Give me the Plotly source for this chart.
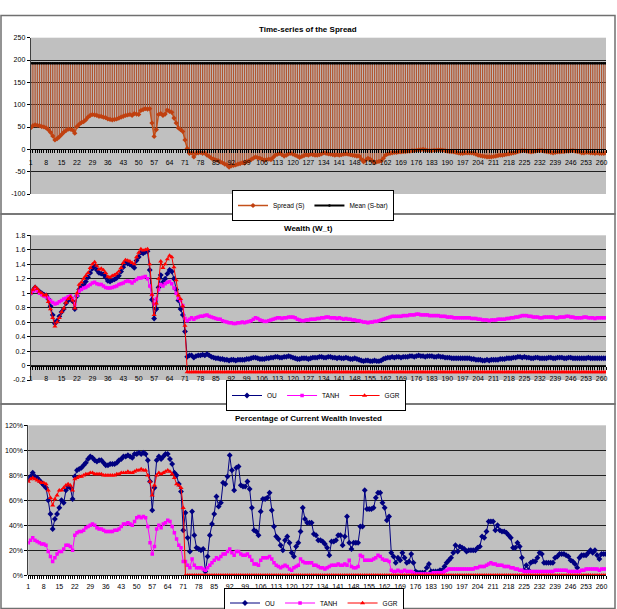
import plotly.graph_objects as go

# ---------------- data ----------------
categories = list(range(1, 263))
x_tick_labels = [1, 8, 15, 22, 29, 36, 43, 50, 57, 64, 71, 78, 85, 92, 99, 106, 113, 120, 127,
                 134, 141, 148, 155, 162, 169, 176, 183, 190, 197, 204, 211, 218, 225, 232, 239,
                 246, 253, 260]

spread_s = [
    48, 53, 55, 54, 53, 51, 50, 48, 44, 38,
    30, 21, 24, 28, 33, 38, 42, 45, 45, 43,
    36, 51, 56, 60, 62, 66, 72, 76, 78, 77,
    76, 74, 74, 72, 71, 68, 67, 66, 67, 68,
    70, 72, 74, 76, 77, 78, 76, 80, 79, 78,
    87, 89, 91, 90, 91, 59, 29, 44, 78, 80,
    76, 79, 88, 85, 83, 70, 59, 48, 44, 40,
    21, 2, -9, -8, -17, -9, -8, -7, -9, -8,
    -13, -16, -20, -22, -24, -25, -28, -30, -33, -35,
    -40, -37, -36, -35, -33, -32, -30, -31, -27, -26,
    -23, -20, -17, -19, -20, -22, -24, -23, -22, -23,
    -18, -13, -11, -9, -12, -15, -13, -10, -9, -11,
    -13, -15, -18, -16, -14, -12, -13, -11, -12, -13,
    -13, -12, -10, -8, -9, -10, -11, -12, -13, -12,
    -13, -12, -11, -10, -11, -12, -13, -14, -15, -15,
    -22, -28, -24, -20, -22, -26, -30, -28, -27, -26,
    -20, -13, -10, -9, -8, -7, -7, -6, -6, -5,
    -5, -4, -4, -3, -3, -2, -1, -1, 0, -1,
    -2, -3, -3, -2, -2, -1, -1, -2, -3, -4,
    -5, -5, -6, -7, -8, -9, -9, -8, -8, -8,
    -8, -9, -11, -13, -14, -15, -16, -17, -17, -17,
    -16, -15, -14, -13, -13, -12, -11, -10, -9, -8,
    -7, -5, -4, -3, -3, -4, -5, -6, -5, -4,
    -3, -3, -3, -4, -5, -6, -7, -8, -7, -6,
    -6, -5, -5, -4, -4, -3, -3, -4, -5, -6,
    -8, -8, -7, -7, -8, -8, -9, -8, -9, -9,
    -9, -8]

mean_s_bar = [
    193, 193, 193, 193, 193, 193, 193, 193, 193, 193,
    193, 193, 193, 193, 193, 193, 193, 193, 193, 193,
    193, 193, 193, 193, 193, 193, 193, 193, 193, 193,
    193, 193, 193, 193, 193, 193, 193, 193, 193, 193,
    193, 193, 193, 193, 193, 193, 193, 193, 193, 193,
    193, 193, 193, 193, 193, 193, 193, 193, 193, 193,
    193, 193, 193, 193, 193, 193, 193, 193, 193, 193,
    193, 193, 193, 193, 193, 193, 193, 193, 193, 193,
    193, 193, 193, 193, 193, 193, 193, 193, 193, 193,
    193, 193, 193, 193, 193, 193, 193, 193, 193, 193,
    193, 193, 193, 193, 193, 193, 193, 193, 193, 193,
    193, 193, 193, 193, 193, 193, 193, 193, 193, 193,
    193, 193, 193, 193, 193, 193, 193, 193, 193, 193,
    193, 193, 193, 193, 193, 193, 193, 193, 193, 193,
    193, 193, 193, 193, 193, 193, 193, 193, 193, 193,
    193, 193, 193, 193, 193, 193, 193, 193, 193, 193,
    193, 193, 193, 193, 193, 193, 193, 193, 193, 193,
    193, 193, 193, 193, 193, 193, 193, 193, 193, 193,
    193, 193, 193, 193, 193, 193, 193, 193, 193, 193,
    193, 193, 193, 193, 193, 193, 193, 193, 193, 193,
    193, 193, 193, 193, 193, 193, 193, 193, 193, 193,
    193, 193, 193, 193, 193, 193, 193, 193, 193, 193,
    193, 193, 193, 193, 193, 193, 193, 193, 193, 193,
    193, 193, 193, 193, 193, 193, 193, 193, 193, 193,
    193, 193, 193, 193, 193, 193, 193, 193, 193, 193,
    193, 193, 193, 193, 193, 193, 193, 193, 193, 193,
    193, 193]

ou_wealth = [
    1.00, 1.04, 1.08, 1.05, 1.02, 1.00, 0.98, 0.97, 0.92, 0.82,
    0.70, 0.58, 0.62, 0.68, 0.74, 0.78, 0.86, 0.90, 0.93, 0.89,
    0.78, 0.96, 1.05, 1.09, 1.12, 1.16, 1.22, 1.28, 1.34, 1.37,
    1.32, 1.28, 1.27, 1.26, 1.22, 1.17, 1.16, 1.18, 1.19, 1.21,
    1.24, 1.30, 1.36, 1.42, 1.41, 1.40, 1.38, 1.35, 1.45, 1.50,
    1.56, 1.55, 1.57, 1.58, 1.32, 0.91, 0.65, 0.78, 1.08, 1.25,
    1.15, 1.20, 1.27, 1.32, 1.30, 1.20, 1.05, 0.90, 0.78, 0.70,
    0.47, 0.12, 0.14, 0.14, 0.11, 0.13, 0.14, 0.14, 0.15, 0.14,
    0.16, 0.14, 0.12, 0.11, 0.10, 0.10, 0.09, 0.09, 0.08, 0.08,
    0.07, 0.08, 0.08, 0.07, 0.08, 0.08, 0.08, 0.08, 0.09, 0.09,
    0.10, 0.11, 0.11, 0.10, 0.09, 0.09, 0.09, 0.10, 0.10, 0.11,
    0.11, 0.12, 0.12, 0.11, 0.11, 0.12, 0.12, 0.13, 0.12, 0.11,
    0.10, 0.09, 0.09, 0.10, 0.10, 0.10, 0.09, 0.10, 0.11, 0.11,
    0.11, 0.12, 0.12, 0.11, 0.11, 0.12, 0.12, 0.11, 0.11, 0.10,
    0.11, 0.10, 0.10, 0.11, 0.10, 0.09, 0.09, 0.10, 0.09, 0.08,
    0.07, 0.06, 0.07, 0.07, 0.06, 0.06, 0.07, 0.06, 0.06, 0.07,
    0.09, 0.10, 0.11, 0.11, 0.12, 0.11, 0.12, 0.12, 0.11, 0.12,
    0.12, 0.12, 0.13, 0.13, 0.12, 0.13, 0.14, 0.13, 0.13, 0.12,
    0.13, 0.13, 0.13, 0.12, 0.12, 0.13, 0.12, 0.12, 0.11, 0.11,
    0.11, 0.10, 0.10, 0.10, 0.10, 0.10, 0.10, 0.10, 0.10, 0.10,
    0.09, 0.09, 0.08, 0.08, 0.08, 0.07, 0.07, 0.08, 0.07, 0.08,
    0.08, 0.08, 0.08, 0.09, 0.09, 0.09, 0.10, 0.10, 0.10, 0.11,
    0.11, 0.12, 0.12, 0.11, 0.12, 0.11, 0.11, 0.10, 0.10, 0.11,
    0.11, 0.10, 0.10, 0.10, 0.10, 0.11, 0.11, 0.10, 0.10, 0.11,
    0.11, 0.11, 0.10, 0.10, 0.11, 0.11, 0.10, 0.10, 0.10, 0.10,
    0.10, 0.10, 0.10, 0.11, 0.10, 0.10, 0.10, 0.10, 0.10, 0.10,
    0.10, 0.10]

tanh_wealth = [
    1.00, 1.03, 1.05, 1.03, 1.00, 0.98, 0.96, 0.95, 0.93, 0.90,
    0.87, 0.85, 0.86, 0.88, 0.90, 0.92, 0.93, 0.95, 0.96, 0.93,
    0.84, 0.97, 1.03, 1.05, 1.07, 1.08, 1.10, 1.12, 1.14, 1.15,
    1.13, 1.12, 1.12, 1.10, 1.08, 1.07, 1.07, 1.08, 1.09, 1.10,
    1.12, 1.13, 1.14, 1.16, 1.17, 1.16, 1.14, 1.17, 1.19, 1.21,
    1.21, 1.22, 1.23, 1.20, 1.10, 0.98, 0.85, 0.92, 1.05, 1.12,
    1.10, 1.13, 1.15, 1.16, 1.13, 1.07, 1.00, 0.93, 0.90, 0.83,
    0.65, 0.62, 0.64, 0.66, 0.64, 0.66, 0.67, 0.68, 0.68, 0.69,
    0.70, 0.68, 0.67, 0.66, 0.65, 0.64, 0.64, 0.62, 0.61, 0.60,
    0.59, 0.59, 0.58, 0.58, 0.59, 0.59, 0.60, 0.59, 0.60, 0.61,
    0.62, 0.64, 0.66, 0.65, 0.63, 0.62, 0.61, 0.61, 0.62, 0.63,
    0.64, 0.65, 0.66, 0.66, 0.65, 0.66, 0.66, 0.67, 0.67, 0.67,
    0.66, 0.64, 0.63, 0.62, 0.62, 0.63, 0.63, 0.64, 0.64, 0.64,
    0.65, 0.65, 0.66, 0.66, 0.67, 0.67, 0.66, 0.66, 0.66, 0.65,
    0.66, 0.65, 0.64, 0.65, 0.64, 0.64, 0.63, 0.63, 0.62, 0.62,
    0.61, 0.60, 0.60, 0.59, 0.60, 0.60, 0.61, 0.61, 0.62, 0.63,
    0.64, 0.65, 0.66, 0.67, 0.68, 0.68, 0.68, 0.68, 0.68, 0.69,
    0.69, 0.69, 0.70, 0.70, 0.70, 0.71, 0.71, 0.70, 0.70, 0.70,
    0.70, 0.69, 0.69, 0.69, 0.69, 0.69, 0.68, 0.68, 0.68, 0.67,
    0.67, 0.67, 0.66, 0.66, 0.66, 0.66, 0.66, 0.66, 0.66, 0.66,
    0.65, 0.65, 0.65, 0.64, 0.64, 0.63, 0.63, 0.63, 0.62, 0.63,
    0.63, 0.63, 0.64, 0.64, 0.64, 0.64, 0.65, 0.65, 0.66, 0.66,
    0.67, 0.67, 0.68, 0.69, 0.69, 0.69, 0.68, 0.68, 0.67, 0.67,
    0.67, 0.66, 0.66, 0.67, 0.67, 0.67, 0.67, 0.67, 0.66, 0.66,
    0.67, 0.67, 0.67, 0.68, 0.68, 0.67, 0.67, 0.66, 0.66, 0.66,
    0.66, 0.67, 0.67, 0.66, 0.66, 0.66, 0.65, 0.66, 0.66, 0.66,
    0.66, 0.66]

ggr_wealth = [
    1.00, 1.05, 1.09, 1.06, 1.02, 1.00, 0.97, 0.98, 0.88, 0.78,
    0.66, 0.54, 0.60, 0.66, 0.74, 0.79, 0.87, 0.92, 0.95, 0.90,
    0.79, 1.00, 1.12, 1.15, 1.20, 1.24, 1.28, 1.35, 1.40, 1.43,
    1.38, 1.33, 1.34, 1.32, 1.28, 1.23, 1.22, 1.24, 1.25, 1.27,
    1.30, 1.35, 1.42, 1.46, 1.45, 1.44, 1.42, 1.40, 1.50, 1.56,
    1.61, 1.59, 1.60, 1.61, 1.40, 0.98, 0.70, 0.86, 1.20, 1.44,
    1.35, 1.40, 1.47, 1.52, 1.50, 1.36, 1.18, 0.97, 0.92, 0.82,
    0.55, -0.09, -0.09, -0.09, -0.09, -0.09, -0.09, -0.09, -0.09, -0.09,
    -0.09, -0.09, -0.09, -0.09, -0.09, -0.09, -0.09, -0.09, -0.09, -0.09,
    -0.09, -0.09, -0.09, -0.09, -0.09, -0.09, -0.09, -0.09, -0.09, -0.09,
    -0.09, -0.09, -0.09, -0.09, -0.09, -0.09, -0.09, -0.09, -0.09, -0.09,
    -0.09, -0.09, -0.09, -0.09, -0.09, -0.09, -0.09, -0.09, -0.09, -0.09,
    -0.09, -0.09, -0.09, -0.09, -0.09, -0.09, -0.09, -0.09, -0.09, -0.09,
    -0.09, -0.09, -0.09, -0.09, -0.09, -0.09, -0.09, -0.09, -0.09, -0.09,
    -0.09, -0.09, -0.09, -0.09, -0.09, -0.09, -0.09, -0.09, -0.09, -0.09,
    -0.09, -0.09, -0.09, -0.09, -0.09, -0.09, -0.09, -0.09, -0.09, -0.09,
    -0.09, -0.09, -0.09, -0.09, -0.09, -0.09, -0.09, -0.09, -0.09, -0.09,
    -0.09, -0.09, -0.09, -0.09, -0.09, -0.09, -0.09, -0.09, -0.09, -0.09,
    -0.09, -0.09, -0.09, -0.09, -0.09, -0.09, -0.09, -0.09, -0.09, -0.09,
    -0.09, -0.09, -0.09, -0.09, -0.09, -0.09, -0.09, -0.09, -0.09, -0.09,
    -0.09, -0.09, -0.09, -0.09, -0.09, -0.09, -0.09, -0.09, -0.09, -0.09,
    -0.09, -0.09, -0.09, -0.09, -0.09, -0.09, -0.09, -0.09, -0.09, -0.09,
    -0.09, -0.09, -0.09, -0.09, -0.09, -0.09, -0.09, -0.09, -0.09, -0.09,
    -0.09, -0.09, -0.09, -0.09, -0.09, -0.09, -0.09, -0.09, -0.09, -0.09,
    -0.09, -0.09, -0.09, -0.09, -0.09, -0.09, -0.09, -0.09, -0.09, -0.09,
    -0.09, -0.09, -0.09, -0.09, -0.09, -0.09, -0.09, -0.09, -0.09, -0.09,
    -0.09, -0.09]

ou_pct = [
    77, 79, 82, 79, 78, 76, 74, 72, 70, 60,
    49, 37, 45, 49, 54, 60, 58, 68, 71, 70,
    61, 79, 84, 85, 86, 88, 90, 93, 95, 94,
    92, 91, 92, 92, 90, 88, 88, 89, 89, 89,
    90, 92, 93, 95, 95, 96, 95, 94, 97, 97,
    98, 97, 98, 97, 92, 75, 52, 70, 92, 95,
    93, 95, 97, 97, 93, 89, 82, 80, 73, 67,
    36, 50, 30, 19, 51, 32, 22, 21, 20, 21,
    3, 15, 32, 41, 49, 63, 55, 58, 74, 73,
    79, 96, 84, 68, 86, 87, 72, 71, 71, 75,
    69, 54, 36, 35, 32, 51, 61, 61, 62, 66,
    52, 39, 31, 29, 24, 20, 28, 31, 26, 18,
    15, 23, 26, 35, 54, 45, 42, 42, 42, 33,
    32, 28, 28, 27, 25, 22, 16, 27, 27, 28,
    32, 32, 24, 31, 47, 26, 21, 26, 26, 26,
    39, 39, 68, 53, 53, 53, 54, 62, 66, 66,
    58, 54, 44, 47, 18, 15, 10, 14, 12, 18,
    14, 10, 11, 17, 10, 3, 2, 2, 2, 2,
    6, 9, 3, 3, 3, 3, 4, 4, 7, 10,
    12, 14, 18, 24, 19, 23, 22, 21, 19, 20,
    20, 20, 20, 22, 23, 31, 30, 35, 43, 43,
    43, 36, 40, 36, 35, 35, 34, 32, 30, 22,
    22, 26, 23, 14, 4, 8, 4, 10, 11, 11,
    14, 18, 17, 10, 10, 10, 10, 10, 14, 15,
    17, 17, 17, 16, 15, 12, 11, 9, 6, 14,
    16, 16, 16, 18, 20, 18, 20, 16, 13, 17,
    17, 17]

tanh_pct = [
    26, 28, 30, 28, 27, 26, 25, 25, 24, 19,
    15, 11, 14, 17, 19, 19, 21, 24, 24, 23,
    20, 32, 34, 35, 35, 36, 38, 39, 40, 41,
    40, 38, 37, 37, 36, 35, 35, 35, 35, 36,
    36, 37, 39, 41, 41, 42, 41, 40, 43, 46,
    47, 46, 47, 46, 39, 26, 17, 23, 37, 40,
    38, 41, 42, 44, 43, 39, 34, 29, 24, 22,
    11, 11, 8, 6, 13, 8, 6, 6, 6, 5,
    4, 6, 8, 10, 12, 14, 13, 15, 17, 17,
    19, 21, 18, 16, 19, 19, 17, 16, 16, 17,
    15, 12, 9, 9, 8, 12, 14, 14, 14, 15,
    13, 10, 8, 7, 6, 7, 8, 7, 5, 4,
    6, 7, 8, 13, 11, 10, 10, 10, 10, 8,
    8, 7, 6, 6, 5, 6, 7, 8, 8, 8,
    9, 8, 8, 9, 8, 12, 7, 6, 6, 7,
    16, 15, 12, 12, 12, 12, 13, 14, 16, 15,
    13, 12, 12, 11, 4, 3, 3, 4, 3, 3,
    4, 3, 3, 3, 2, 1, 1, 1, 1, 1,
    1, 1, 1, 2, 2, 2, 2, 2, 3, 4,
    5, 5, 5, 5, 5, 5, 5, 5, 5, 5,
    5, 5, 6, 6, 7, 7, 7, 8, 9, 10,
    9, 9, 8, 8, 8, 7, 7, 7, 6, 6,
    5, 5, 4, 4, 3, 3, 3, 3, 3, 3,
    3, 3, 3, 3, 3, 3, 3, 3, 4, 4,
    4, 4, 4, 4, 3, 3, 3, 3, 3, 3,
    4, 4, 5, 5, 5, 5, 5, 5, 4, 5,
    5, 5]

ggr_pct = [
    75, 77, 78, 77, 76, 75, 74, 74, 73, 68,
    62, 56, 61, 64, 68, 68, 70, 72, 73, 72,
    68, 77, 78, 79, 79, 80, 81, 81, 82, 82,
    81, 81, 81, 81, 80, 80, 80, 80, 80, 80,
    81, 81, 82, 82, 82, 83, 82, 82, 83, 84,
    84, 85, 84, 84, 80, 75, 64, 72, 80, 82,
    81, 82, 83, 84, 83, 81, 78, 73, 72, 70,
    54, 0, 0, 0, 0, 0, 0, 0, 0, 0,
    0, 0, 0, 0, 0, 0, 0, 0, 0, 0,
    0, 0, 0, 0, 0, 0, 0, 0, 0, 0,
    0, 0, 0, 0, 0, 0, 0, 0, 0, 0,
    0, 0, 0, 0, 0, 0, 0, 0, 0, 0,
    0, 0, 0, 0, 0, 0, 0, 0, 0, 0,
    0, 0, 0, 0, 0, 0, 0, 0, 0, 0,
    0, 0, 0, 0, 0, 0, 0, 0, 0, 0,
    0, 0, 0, 0, 0, 0, 0, 0, 0, 0,
    0, 0, 0, 0, 0, 0, 0, 0, 0, 0,
    0, 0, 0, 0, 0, 0, 0, 0, 0, 0,
    0, 0, 0, 0, 0, 0, 0, 0, 0, 0,
    0, 0, 0, 0, 0, 0, 0, 0, 0, 0,
    0, 0, 0, 0, 0, 0, 0, 0, 0, 0,
    0, 0, 0, 0, 0, 0, 0, 0, 0, 0,
    0, 0, 0, 0, 0, 0, 0, 0, 0, 0,
    0, 0, 0, 0, 0, 0, 0, 0, 0, 0,
    0, 0, 0, 0, 0, 0, 0, 0, 0, 0,
    0, 0, 0, 0, 0, 0, 0, 0, 0, 0,
    0, 0]

spread_ticks = [-100, -50, 0, 50, 100, 150, 200, 250]
wealth_ticks = [-0.2, 0, 0.2, 0.4, 0.6, 0.8, 1.0, 1.2, 1.4, 1.6, 1.8]
wealth_tick_text = ["-0.2", "0", "0.2", "0.4", "0.6", "0.8", "1", "1.2", "1.4", "1.6", "1.8"]
pct_ticks = [0, 20, 40, 60, 80, 100, 120]
pct_tick_text = ["0%", "20%", "40%", "60%", "80%", "100%", "120%"]

_lens = {k: len(v) for k, v in dict(spread_s=spread_s, mean_s_bar=mean_s_bar, ou_wealth=ou_wealth,
                                      tanh_wealth=tanh_wealth, ggr_wealth=ggr_wealth, ou_pct=ou_pct,
                                      tanh_pct=tanh_pct, ggr_pct=ggr_pct).items()}
assert all(n == len(categories) for n in _lens.values()), _lens

# ---------------- layout helpers ----------------
W, H = 617, 609
FONT = "Arial, Liberation Sans, sans-serif"


def fx(p):
    return p / W


def fy(p):
    return 1 - p / H


fig = go.Figure()

# high-low lines between spread and mean
hl_x, hl_y = [], []
for c, s, m in zip(categories, spread_s, mean_s_bar):
    hl_x += [c, c, None]
    hl_y += [s, m, None]

fig.add_trace(go.Scatter(x=hl_x, y=hl_y, mode="lines", line=dict(color="#B25530", width=1.25),
                         showlegend=False, hoverinfo="skip", xaxis="x", yaxis="y"))
fig.add_trace(go.Scatter(x=categories, y=spread_s, name="Spread (S)", mode="lines+markers",
                         line=dict(color="#C4501A", width=1.5),
                         marker=dict(symbol="diamond", size=4, color="#C04010"),
                         xaxis="x", yaxis="y", legend="legend"))
fig.add_trace(go.Scatter(x=categories, y=mean_s_bar, name="Mean (S-bar)", mode="lines+markers",
                         line=dict(color="#000000", width=2),
                         marker=dict(symbol="circle", size=2.5, color="#000000"),
                         xaxis="x", yaxis="y", legend="legend"))

# wealth
fig.add_trace(go.Scatter(x=categories, y=ou_wealth, name="OU", mode="lines+markers",
                         line=dict(color="#000080", width=1),
                         marker=dict(symbol="diamond", size=4.5, color="#000080"),
                         xaxis="x2", yaxis="y2", legend="legend2"))
fig.add_trace(go.Scatter(x=categories, y=tanh_wealth, name="TANH", mode="lines+markers",
                         line=dict(color="#FF00FF", width=1),
                         marker=dict(symbol="square", size=3.5, color="#FF00FF"),
                         xaxis="x2", yaxis="y2", legend="legend2"))
fig.add_trace(go.Scatter(x=categories, y=ggr_wealth, name="GGR", mode="lines+markers",
                         line=dict(color="#FF0000", width=1),
                         marker=dict(symbol="triangle-up", size=4.5, color="#FF0000"),
                         xaxis="x2", yaxis="y2", legend="legend2"))

# percentage invested
fig.add_trace(go.Scatter(x=categories, y=ou_pct, name="OU", mode="lines+markers",
                         line=dict(color="#000080", width=1),
                         marker=dict(symbol="diamond", size=4.5, color="#000080"),
                         xaxis="x3", yaxis="y3", legend="legend3"))
fig.add_trace(go.Scatter(x=categories, y=tanh_pct, name="TANH", mode="lines+markers",
                         line=dict(color="#FF00FF", width=1),
                         marker=dict(symbol="square", size=3.5, color="#FF00FF"),
                         xaxis="x3", yaxis="y3", legend="legend3"))
fig.add_trace(go.Scatter(x=categories, y=ggr_pct, name="GGR", mode="lines+markers",
                         line=dict(color="#FF0000", width=1),
                         marker=dict(symbol="triangle-up", size=4.5, color="#FF0000"),
                         xaxis="x3", yaxis="y3", legend="legend3"))

# panel geometry (pixels)
panels = {
    1: dict(x0=30.7, x1=606, y0=37.7, y1=194.0, yr=[-100, 250], standoff=3),
    2: dict(x0=30.7, x1=606, y0=235.3, y1=380.0, yr=[-0.2, 1.8], standoff=3),
    3: dict(x0=28.3, x1=606, y0=425.3, y1=575.3, yr=[0, 120], standoff=1),
}


def zero_pos(p):
    g = panels[p]
    lo, hi = g["yr"]
    py = g["y1"] - (0 - lo) / (hi - lo) * (g["y1"] - g["y0"])
    return fy(py)


tickfont = dict(family=FONT, size=7, color="black")
for i in (1, 2, 3):
    g = panels[i]
    sfx = "" if i == 1 else str(i)
    xa = dict(domain=[fx(g["x0"]), fx(g["x1"])], range=[1, 262], anchor="free",
              position=zero_pos(i), showgrid=False, zeroline=False, showline=True,
              linecolor="black", linewidth=1, tickmode="array", tickvals=x_tick_labels,
              ticktext=[str(v) for v in x_tick_labels], ticks="outside", ticklen=3,
              tickcolor="black", tickwidth=1, tickfont=tickfont, ticklabelstandoff=g["standoff"],
              minor=dict(tick0=1, dtick=1, ticks="outside", ticklen=3, tickcolor="black",
                         tickwidth=1, showgrid=False))
    if i == 1:
        yt, ytt = spread_ticks, [str(v) for v in spread_ticks]
    elif i == 2:
        yt, ytt = wealth_ticks, wealth_tick_text
    else:
        yt, ytt = pct_ticks, pct_tick_text
    ya = dict(domain=[fy(g["y1"]), fy(g["y0"])], range=g["yr"], anchor="x" + sfx,
              showgrid=True, gridcolor="#202020", gridwidth=1, zeroline=False,
              showline=True, linecolor="#404040", linewidth=1, tickmode="array",
              tickvals=yt, ticktext=ytt, ticks="outside", ticklen=3, tickcolor="black",
              tickfont=tickfont)
    fig.layout["xaxis" + sfx] = xa
    fig.layout["yaxis" + sfx] = ya

# titles
titles = [("Time-series of the Spread", 29.0), ("Wealth (W_t)", 228.7),
          ("Percentage of Current Wealth Invested", 418.0)]
for text, py in titles:
    fig.add_annotation(text="<b>%s</b>" % text, x=fx(308), y=fy(py), xref="paper", yref="paper",
                       showarrow=False, xanchor="center", yanchor="middle",
                       font=dict(family=FONT, size=8, color="black"))

# chart frames
frames = [(1, 15.5, 615, 214), (1, 214, 615, 404), (1, 404, 615, 608.5)]
for x0, y0, x1, y1 in frames:
    fig.add_shape(type="rect", xref="paper", yref="paper", x0=fx(x0), x1=fx(x1), y0=fy(y1),
                  y1=fy(y0), line=dict(color="#707070", width=1.5), fillcolor="rgba(0,0,0,0)")

leg_common = dict(orientation="h", xanchor="center", bordercolor="black",
                  borderwidth=1, bgcolor="white", font=dict(family=FONT, size=6.5, color="black"),
                  itemwidth=30, tracegroupgap=0)
fig.update_layout(
    width=W, height=H, margin=dict(l=0, r=0, t=0, b=0, autoexpand=False),
    paper_bgcolor="white", plot_bgcolor="#C0C0C0",
    font=dict(family=FONT, size=7, color="black"),
    legend=dict(x=fx(313), y=fy(205.5), yanchor="middle", **leg_common),
    legend2=dict(x=fx(316), y=fy(395.5), yanchor="middle", **leg_common),
    legend3=dict(x=fx(314), y=fy(587.5), yanchor="top", **leg_common),
    hovermode=False,
)

fig.write_html("out.html")
